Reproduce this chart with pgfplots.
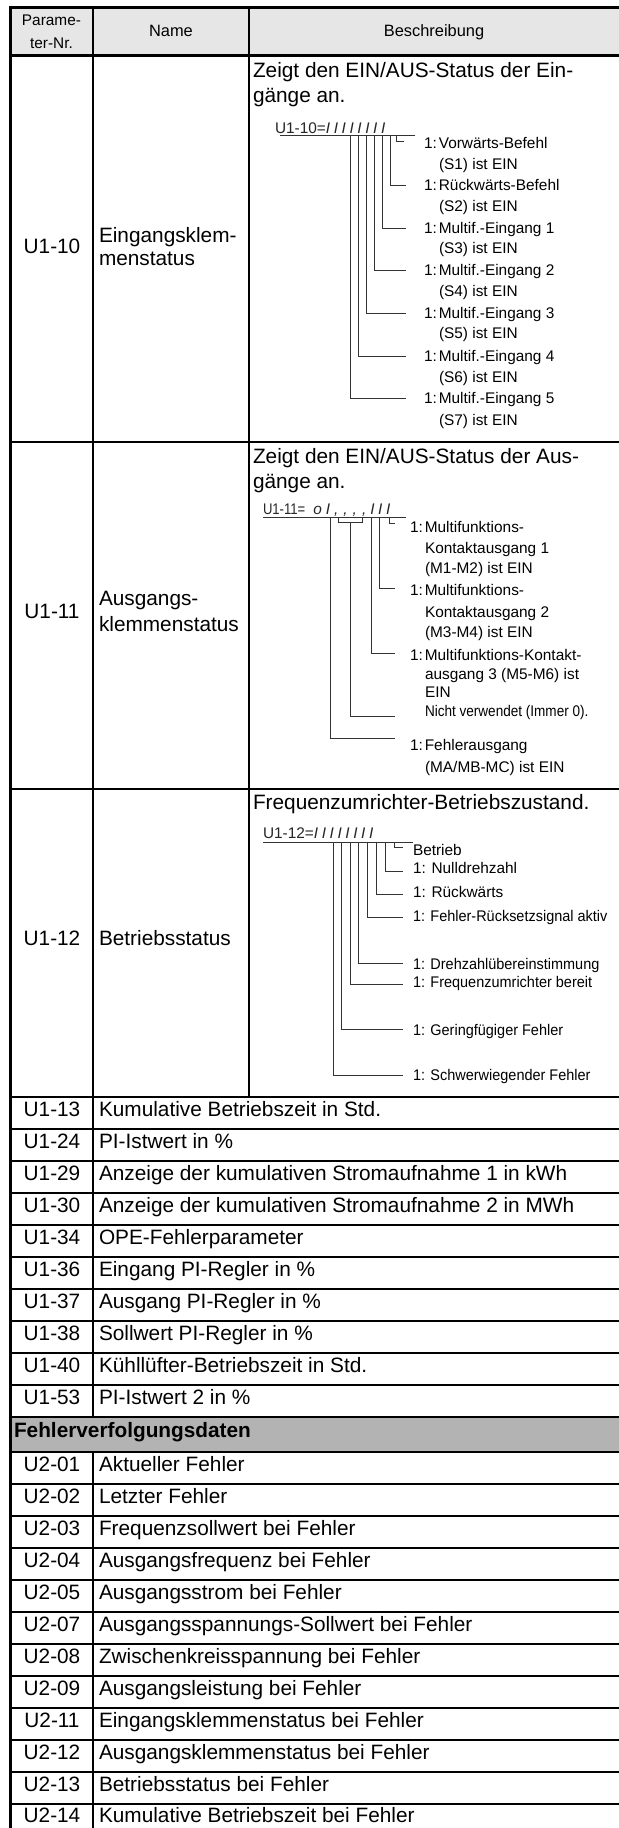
\documentclass[border=0pt]{standalone}
\usepackage{fontspec}
\setmainfont{Liberation Sans}
\usepackage{graphicx}
\usepackage{pgfplots}
\pgfplotsset{compat=1.18}
\definecolor{hdr}{HTML}{E6E6E6}
\definecolor{grp}{HTML}{B3B3B3}
\definecolor{lead}{HTML}{333333}
\newcommand{\fs}[1]{\fontsize{#1}{#1}\selectfont}
\tikzset{
  T/.style={inner sep=0pt, outer sep=0pt, font=\fs{10.4}},
  H/.style={inner sep=0pt, outer sep=0pt, font=\fs{8.2}},
  L/.style={inner sep=0pt, outer sep=0pt, font=\fs{7.7}},
}
\pgfplotsset{
  tl/.style={black, line width=0.6pt, mark=none, forget plot},
  th/.style={black, line width=1.5pt, mark=none, forget plot},
  ld/.style={lead, line width=0.5pt, mark=none, forget plot},
}
\begin{document}
\begin{tikzpicture}
\begin{axis}[
  width=309.5pt, height=914pt, scale only axis,
  xmin=0, xmax=619, ymin=0, ymax=1828, y dir=reverse,
  hide axis, clip=true, no markers,
]
% backgrounds
\addplot[draw=none, fill=white, forget plot] coordinates {(0,0) (619,0) (619,1828) (0,1828) (0,0)};
\addplot[draw=none, fill=hdr, forget plot] coordinates {(10,7) (619,7) (619,55) (10,55) (10,7)};
\addplot[draw=none, fill=grp, forget plot] coordinates {(10,1417) (619,1417) (619,1452) (10,1452) (10,1417)};
% thin row lines
\addplot[tl] coordinates {(10,442) (619,442)};
\addplot[tl] coordinates {(10,789) (619,789)};
\addplot[tl] coordinates {(10,1097) (619,1097)};
\addplot[tl] coordinates {(10,1129) (619,1129)};
\addplot[tl] coordinates {(10,1161) (619,1161)};
\addplot[tl] coordinates {(10,1193) (619,1193)};
\addplot[tl] coordinates {(10,1225) (619,1225)};
\addplot[tl] coordinates {(10,1257) (619,1257)};
\addplot[tl] coordinates {(10,1289) (619,1289)};
\addplot[tl] coordinates {(10,1321) (619,1321)};
\addplot[tl] coordinates {(10,1353) (619,1353)};
\addplot[tl] coordinates {(10,1385) (619,1385)};
\addplot[tl] coordinates {(10,1417) (619,1417)};
\addplot[tl] coordinates {(10,1452) (619,1452)};
\addplot[tl] coordinates {(10,1484) (619,1484)};
\addplot[tl] coordinates {(10,1516) (619,1516)};
\addplot[tl] coordinates {(10,1548) (619,1548)};
\addplot[tl] coordinates {(10,1580) (619,1580)};
\addplot[tl] coordinates {(10,1612) (619,1612)};
\addplot[tl] coordinates {(10,1644) (619,1644)};
\addplot[tl] coordinates {(10,1676) (619,1676)};
\addplot[tl] coordinates {(10,1708) (619,1708)};
\addplot[tl] coordinates {(10,1740) (619,1740)};
\addplot[tl] coordinates {(10,1772) (619,1772)};
\addplot[tl] coordinates {(10,1804) (619,1804)};
% column lines
\addplot[tl] coordinates {(93,7) (93,1417)};
\addplot[tl] coordinates {(93,1452) (93,1828)};
\addplot[tl] coordinates {(249,7) (249,1097)};
% thick lines
\addplot[th] coordinates {(9,7) (619,7)};
\addplot[th] coordinates {(9,55) (619,55)};
\addplot[th] coordinates {(10.5,5.5) (10.5,1828)};

% header
\node[L, anchor=mid] at (51.5,20) {Parame-};
\node[L, anchor=mid] at (51.5,43) {ter-Nr.};
\node[H, anchor=mid] at (171,31) {Name};
\node[H, anchor=mid] at (434,31) {Beschreibung};

% ---------- U1-10
\node[T, anchor=mid] at (52,248) {U1-10};
\node[T, anchor=mid west] at (99,237) {Eingangsklem-};
\node[T, anchor=mid west] at (99,260) {menstatus};
\node[T, anchor=mid west] at (253,72) {Zeigt den EIN/AUS-Status der Ein-};
\node[T, anchor=mid west] at (253,97) {gänge an.};
\node[L, anchor=mid west, text=black!85] at (275,128) {U1-10={\itshape I\kern1.8pt I\kern1.8pt I\kern1.8pt I\kern1.8pt I\kern1.8pt I\kern1.8pt I\kern1.8pt I}};
\addplot[ld] coordinates {(280,135) (415,135)};
\addplot[ld] coordinates {(396,135) (396,141) (404,141)};
\addplot[ld] coordinates {(390,135) (390,185) (406,185)};
\addplot[ld] coordinates {(382,135) (382,228) (406,228)};
\addplot[ld] coordinates {(374,135) (374,270) (406,270)};
\addplot[ld] coordinates {(366,135) (366,313) (406,313)};
\addplot[ld] coordinates {(358,135) (358,356) (406,356)};
\addplot[ld] coordinates {(350,135) (350,398) (406,398)};
\node[L, anchor=mid west] at (424,143) {1:\kern1pt Vorwärts-Befehl};
\node[L, anchor=mid west] at (439,164) {(S1) ist EIN};
\node[L, anchor=mid west] at (424,185) {1:\kern1pt Rückwärts-Befehl};
\node[L, anchor=mid west] at (439,206) {(S2) ist EIN};
\node[L, anchor=mid west] at (424,228) {1:\kern1pt Multif.-Eingang 1};
\node[L, anchor=mid west] at (439,248) {(S3) ist EIN};
\node[L, anchor=mid west] at (424,270) {1:\kern1pt Multif.-Eingang 2};
\node[L, anchor=mid west] at (439,291) {(S4) ist EIN};
\node[L, anchor=mid west] at (424,313) {1:\kern1pt Multif.-Eingang 3};
\node[L, anchor=mid west] at (439,333) {(S5) ist EIN};
\node[L, anchor=mid west] at (424,356) {1:\kern1pt Multif.-Eingang 4};
\node[L, anchor=mid west] at (439,377) {(S6) ist EIN};
\node[L, anchor=mid west] at (424,398) {1:\kern1pt Multif.-Eingang 5};
\node[L, anchor=mid west] at (439,420) {(S7) ist EIN};

% ---------- U1-11
\node[T, anchor=mid] at (52,613) {U1-11};
\node[T, anchor=mid west] at (99,600) {Ausgangs-};
\node[T, anchor=mid west] at (99,626) {klemmenstatus};
\node[T, anchor=mid west] at (253,458) {Zeigt den EIN/AUS-Status der Aus-};
\node[T, anchor=mid west] at (253,483) {gänge an.};
\node[L, anchor=mid west, text=black!85] at (263,509) {\scalebox{0.85}[1]{U1-11=}\kern4pt{\itshape o\kern2pt I\kern2pt ,\kern2.5pt ,\kern2.5pt ,\kern2.5pt ,\kern2pt I\kern1.8pt I\kern1.8pt I}};
\addplot[ld] coordinates {(263,517) (406,517)};
\addplot[ld] coordinates {(389,517) (389,523) (395,523)};
\addplot[ld] coordinates {(379,517) (379,588) (395,588)};
\addplot[ld] coordinates {(371,517) (371,653) (395,653)};
\addplot[ld] coordinates {(338,517) (338,522) (362,522) (362,517)};
\addplot[ld] coordinates {(350,522) (350,716) (395,716)};
\addplot[ld] coordinates {(330,517) (330,738) (395,738)};
\node[L, anchor=mid west] at (410,527) {1:\kern1pt Multifunktions-};
\node[L, anchor=mid west] at (425,548) {Kontaktausgang 1};
\node[L, anchor=mid west] at (425,568) {(M1-M2) ist EIN};
\node[L, anchor=mid west] at (410,590) {1:\kern1pt Multifunktions-};
\node[L, anchor=mid west] at (425,612) {Kontaktausgang 2};
\node[L, anchor=mid west] at (425,632) {(M3-M4) ist EIN};
\node[L, anchor=mid west] at (410,655) {1:\kern1pt Multifunktions-Kontakt-};
\node[L, anchor=mid west] at (425,674) {ausgang 3 (M5-M6) ist};
\node[L, anchor=mid west] at (425,692) {EIN};
\node[L, anchor=mid west] at (425,711) {\scalebox{0.88}[1]{Nicht verwendet (Immer 0).}};
\node[L, anchor=mid west] at (410,745) {1:\kern1pt Fehlerausgang};
\node[L, anchor=mid west] at (425,767) {(MA/MB-MC) ist EIN};

% ---------- U1-12
\node[T, anchor=mid] at (52,940) {U1-12};
\node[T, anchor=mid west] at (99,940) {Betriebsstatus};
\node[T, anchor=mid west] at (253,804) {Frequenzumrichter-Betriebszustand.};
\node[L, anchor=mid west, text=black!85] at (263,833) {U1-12={\itshape I\kern1.8pt I\kern1.8pt I\kern1.8pt I\kern1.8pt I\kern1.8pt I\kern1.8pt I\kern1.8pt I}};
\addplot[ld] coordinates {(263,842) (413,842)};
\addplot[ld] coordinates {(394,842) (394,847) (403,847)};
\addplot[ld] coordinates {(385,842) (385,871) (403,871)};
\addplot[ld] coordinates {(376,842) (376,894) (403,894)};
\addplot[ld] coordinates {(367,842) (367,917) (403,917)};
\addplot[ld] coordinates {(358.5,842) (358.5,963) (403,963)};
\addplot[ld] coordinates {(350,842) (350,984) (403,984)};
\addplot[ld] coordinates {(341.5,842) (341.5,1029) (403,1029)};
\addplot[ld] coordinates {(333,842) (333,1075) (403,1075)};
\node[L, anchor=mid west] at (413,850) {Betrieb};
\node[L, anchor=mid west] at (413,868) {1: Nulldrehzahl};
\node[L, anchor=mid west] at (413,892) {1: Rückwärts};
\node[L, anchor=mid west] at (413,916) {\scalebox{0.94}[1]{1: Fehler-Rücksetzsignal aktiv}};
\node[L, anchor=mid west] at (413,964) {\scalebox{0.94}[1]{1: Drehzahlübereinstimmung}};
\node[L, anchor=mid west] at (413,982) {\scalebox{0.94}[1]{1: Frequenzumrichter bereit}};
\node[L, anchor=mid west] at (413,1030) {\scalebox{0.94}[1]{1: Geringfügiger Fehler}};
\node[L, anchor=mid west] at (413,1075) {\scalebox{0.94}[1]{1: Schwerwiegender Fehler}};

% ---------- simple rows
\node[T, anchor=mid] at (52,1111) {U1-13};
\node[T, anchor=mid west] at (99,1111) {Kumulative Betriebszeit in Std.};
\node[T, anchor=mid] at (52,1143) {U1-24};
\node[T, anchor=mid west] at (99,1143) {PI-Istwert in \%};
\node[T, anchor=mid] at (52,1175) {U1-29};
\node[T, anchor=mid west] at (99,1175) {Anzeige der kumulativen Stromaufnahme 1 in kWh};
\node[T, anchor=mid] at (52,1207) {U1-30};
\node[T, anchor=mid west] at (99,1207) {Anzeige der kumulativen Stromaufnahme 2 in MWh};
\node[T, anchor=mid] at (52,1239) {U1-34};
\node[T, anchor=mid west] at (99,1239) {OPE-Fehlerparameter};
\node[T, anchor=mid] at (52,1271) {U1-36};
\node[T, anchor=mid west] at (99,1271) {Eingang PI-Regler in \%};
\node[T, anchor=mid] at (52,1303) {U1-37};
\node[T, anchor=mid west] at (99,1303) {Ausgang PI-Regler in \%};
\node[T, anchor=mid] at (52,1335) {U1-38};
\node[T, anchor=mid west] at (99,1335) {Sollwert PI-Regler in \%};
\node[T, anchor=mid] at (52,1367) {U1-40};
\node[T, anchor=mid west] at (99,1367) {Kühllüfter-Betriebszeit in Std.};
\node[T, anchor=mid] at (52,1399) {U1-53};
\node[T, anchor=mid west] at (99,1399) {PI-Istwert 2 in \%};
\node[T, anchor=mid west, font=\fs{10.4}\bfseries] at (14,1432) {Fehlerverfolgungsdaten};
\node[T, anchor=mid] at (52,1466) {U2-01};
\node[T, anchor=mid west] at (99,1466) {Aktueller Fehler};
\node[T, anchor=mid] at (52,1498) {U2-02};
\node[T, anchor=mid west] at (99,1498) {Letzter Fehler};
\node[T, anchor=mid] at (52,1530) {U2-03};
\node[T, anchor=mid west] at (99,1530) {Frequenzsollwert bei Fehler};
\node[T, anchor=mid] at (52,1562) {U2-04};
\node[T, anchor=mid west] at (99,1562) {Ausgangsfrequenz bei Fehler};
\node[T, anchor=mid] at (52,1594) {U2-05};
\node[T, anchor=mid west] at (99,1594) {Ausgangsstrom bei Fehler};
\node[T, anchor=mid] at (52,1626) {U2-07};
\node[T, anchor=mid west] at (99,1626) {Ausgangsspannungs-Sollwert bei Fehler};
\node[T, anchor=mid] at (52,1658) {U2-08};
\node[T, anchor=mid west] at (99,1658) {Zwischenkreisspannung bei Fehler};
\node[T, anchor=mid] at (52,1690) {U2-09};
\node[T, anchor=mid west] at (99,1690) {Ausgangsleistung bei Fehler};
\node[T, anchor=mid] at (52,1722) {U2-11};
\node[T, anchor=mid west] at (99,1722) {Eingangsklemmenstatus bei Fehler};
\node[T, anchor=mid] at (52,1754) {U2-12};
\node[T, anchor=mid west] at (99,1754) {Ausgangsklemmenstatus bei Fehler};
\node[T, anchor=mid] at (52,1786) {U2-13};
\node[T, anchor=mid west] at (99,1786) {Betriebsstatus bei Fehler};
\node[T, anchor=mid] at (52,1817) {U2-14};
\node[T, anchor=mid west] at (99,1817) {Kumulative Betriebszeit bei Fehler};
\end{axis}
\end{tikzpicture}
\end{document}
